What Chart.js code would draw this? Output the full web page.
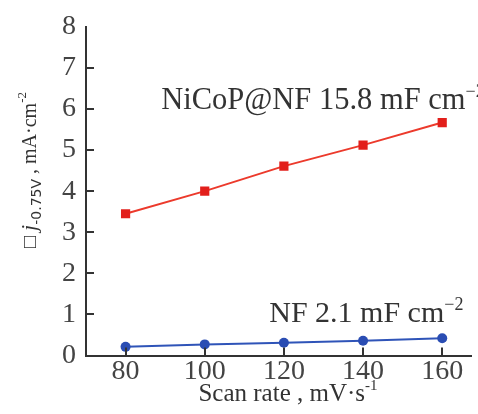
<!DOCTYPE html>
<html>
<head>
<meta charset="utf-8">
<script src="https://cdn.jsdelivr.net/npm/chart.js@4/dist/chart.umd.min.js"></script>
<style>
  html, body { margin: 0; background: #fff; }
  #wrap { width: 478px; height: 414px; }
</style>
</head>
<body>
<div id="wrap"><canvas id="chart"></canvas></div>
<script>
// data
const scanRates = [80, 100, 120, 140, 160];
const nicopCurrent = [3.45, 4.0, 4.61, 5.12, 5.67];
const nfCurrent = [0.21, 0.27, 0.31, 0.36, 0.42];
const xTicks = [80, 100, 120, 140, 160];
const yTicks = [0, 1, 2, 3, 4, 5, 6, 7, 8];

const SERIF = '"Liberation Serif", "Times New Roman", serif';
const AXIS = '#333';

// draw a run of text pieces (normal / sub / sup) starting at x
function drawRuns(ctx, runs, x, y) {
    let cx = x;
    runs.forEach(r => {
        ctx.font = r.font;
        ctx.fillText(r.text, cx, y + (r.dy || 0));
        cx += ctx.measureText(r.text).width;
    });
    return cx;
}
function runsWidth(ctx, runs) {
    let w = 0;
    runs.forEach(r => { ctx.font = r.font; w += ctx.measureText(r.text).width; });
    return w;
}

const extras = {
    id: 'extras',
    afterDraw(chart) {
        const ctx = chart.ctx;
        const xs = chart.scales.x, ys = chart.scales.y;
        const area = chart.chartArea;
        ctx.save();

        // inward tick marks
        ctx.strokeStyle = AXIS;
        ctx.lineWidth = 2;
        ctx.beginPath();
        xTicks.forEach(v => {
            const px = Math.round(xs.getPixelForValue(v));
            ctx.moveTo(px, area.bottom);
            ctx.lineTo(px, area.bottom - 8);
        });
        yTicks.slice(1, -1).forEach(v => {
            const py = Math.round(ys.getPixelForValue(v));
            ctx.moveTo(area.left, py);
            ctx.lineTo(area.left + 8, py);
        });
        ctx.stroke();

        ctx.fillStyle = '#333';
        ctx.textBaseline = 'alphabetic';
        ctx.textAlign = 'left';

        // series labels
        drawRuns(ctx, [
            { text: 'NiCoP@NF 15.8 mF cm', font: '30.5px ' + SERIF },
            { text: '\u22122', font: '18px ' + SERIF, dy: -12 }
        ], xs.getPixelForValue(89), ys.getPixelForValue(5.99));
        drawRuns(ctx, [
            { text: 'NF 2.1 mF cm', font: '30px ' + SERIF },
            { text: '\u22122', font: '18px ' + SERIF, dy: -12 }
        ], xs.getPixelForValue(116.3), ys.getPixelForValue(0.82));

        // x axis title
        const xRuns = [
            { text: 'Scan rate , mV\u00b7s', font: '25px ' + SERIF },
            { text: '-1', font: '15px ' + SERIF, dy: -11 }
        ];
        const xw = runsWidth(ctx, xRuns);
        drawRuns(ctx, xRuns, 288 - xw / 2, 401);

        // y axis title (rotated)
        const yRuns = [
            { text: '\u25a1 ', font: '20px ' + SERIF },
            { text: 'j', font: 'italic 22px ' + SERIF },
            { text: '-0.75V', font: '14px "DejaVu Sans", sans-serif', dy: 5 },
            { text: ' , mA\u00b7cm', font: '20px ' + SERIF },
            { text: '-2', font: '13px ' + SERIF, dy: -10 }
        ];
        const yw = runsWidth(ctx, yRuns);
        ctx.translate(36, 170);
        ctx.rotate(-Math.PI / 2);
        drawRuns(ctx, yRuns, -yw / 2, 0);

        ctx.restore();
    }
};

new Chart(document.getElementById('chart'), {
    type: 'line',
    data: {
        datasets: [
            {
                label: 'NiCoP@NF',
                data: scanRates.map((x, i) => ({ x: x, y: nicopCurrent[i] })),
                borderColor: '#ec3a2c',
                backgroundColor: '#e21f1b',
                borderWidth: 2,
                pointStyle: 'rect',
                pointRadius: 6.5,
                pointBorderWidth: 0,
                tension: 0
            },
            {
                label: 'NF',
                data: scanRates.map((x, i) => ({ x: x, y: nfCurrent[i] })),
                borderColor: '#2f54b8',
                backgroundColor: '#2a4db3',
                borderWidth: 2,
                pointStyle: 'circle',
                pointRadius: 5,
                pointBorderWidth: 0,
                tension: 0
            }
        ]
    },
    options: {
        responsive: true,
        maintainAspectRatio: false,
        animation: false,
        layout: { padding: { top: 23, right: 0, left: 0, bottom: 0 } },
        plugins: {
            legend: { display: false },
            tooltip: { enabled: false }
        },
        scales: {
            x: {
                type: 'linear',
                min: 70,
                max: 167.4,
                afterBuildTicks: s => { s.ticks = xTicks.map(v => ({ value: v })); },
                afterFit: s => { s.height = 58.5; },
                grid: { display: false, drawTicks: false },
                border: { display: true, color: AXIS, width: 2 },
                ticks: {
                    padding: -1,
                    color: '#444',
                    font: { family: SERIF, size: 28 },
                    maxRotation: 0
                }
            },
            y: {
                type: 'linear',
                min: 0,
                max: 8,
                afterBuildTicks: s => { s.ticks = yTicks.map(v => ({ value: v })); },
                afterFit: s => { s.width = 86; },
                grid: { display: false, drawTicks: false },
                border: { display: true, color: AXIS, width: 2 },
                ticks: {
                    padding: 10,
                    color: '#444',
                    font: { family: SERIF, size: 28 }
                }
            }
        }
    },
    plugins: [extras]
});
</script>
</body>
</html>
